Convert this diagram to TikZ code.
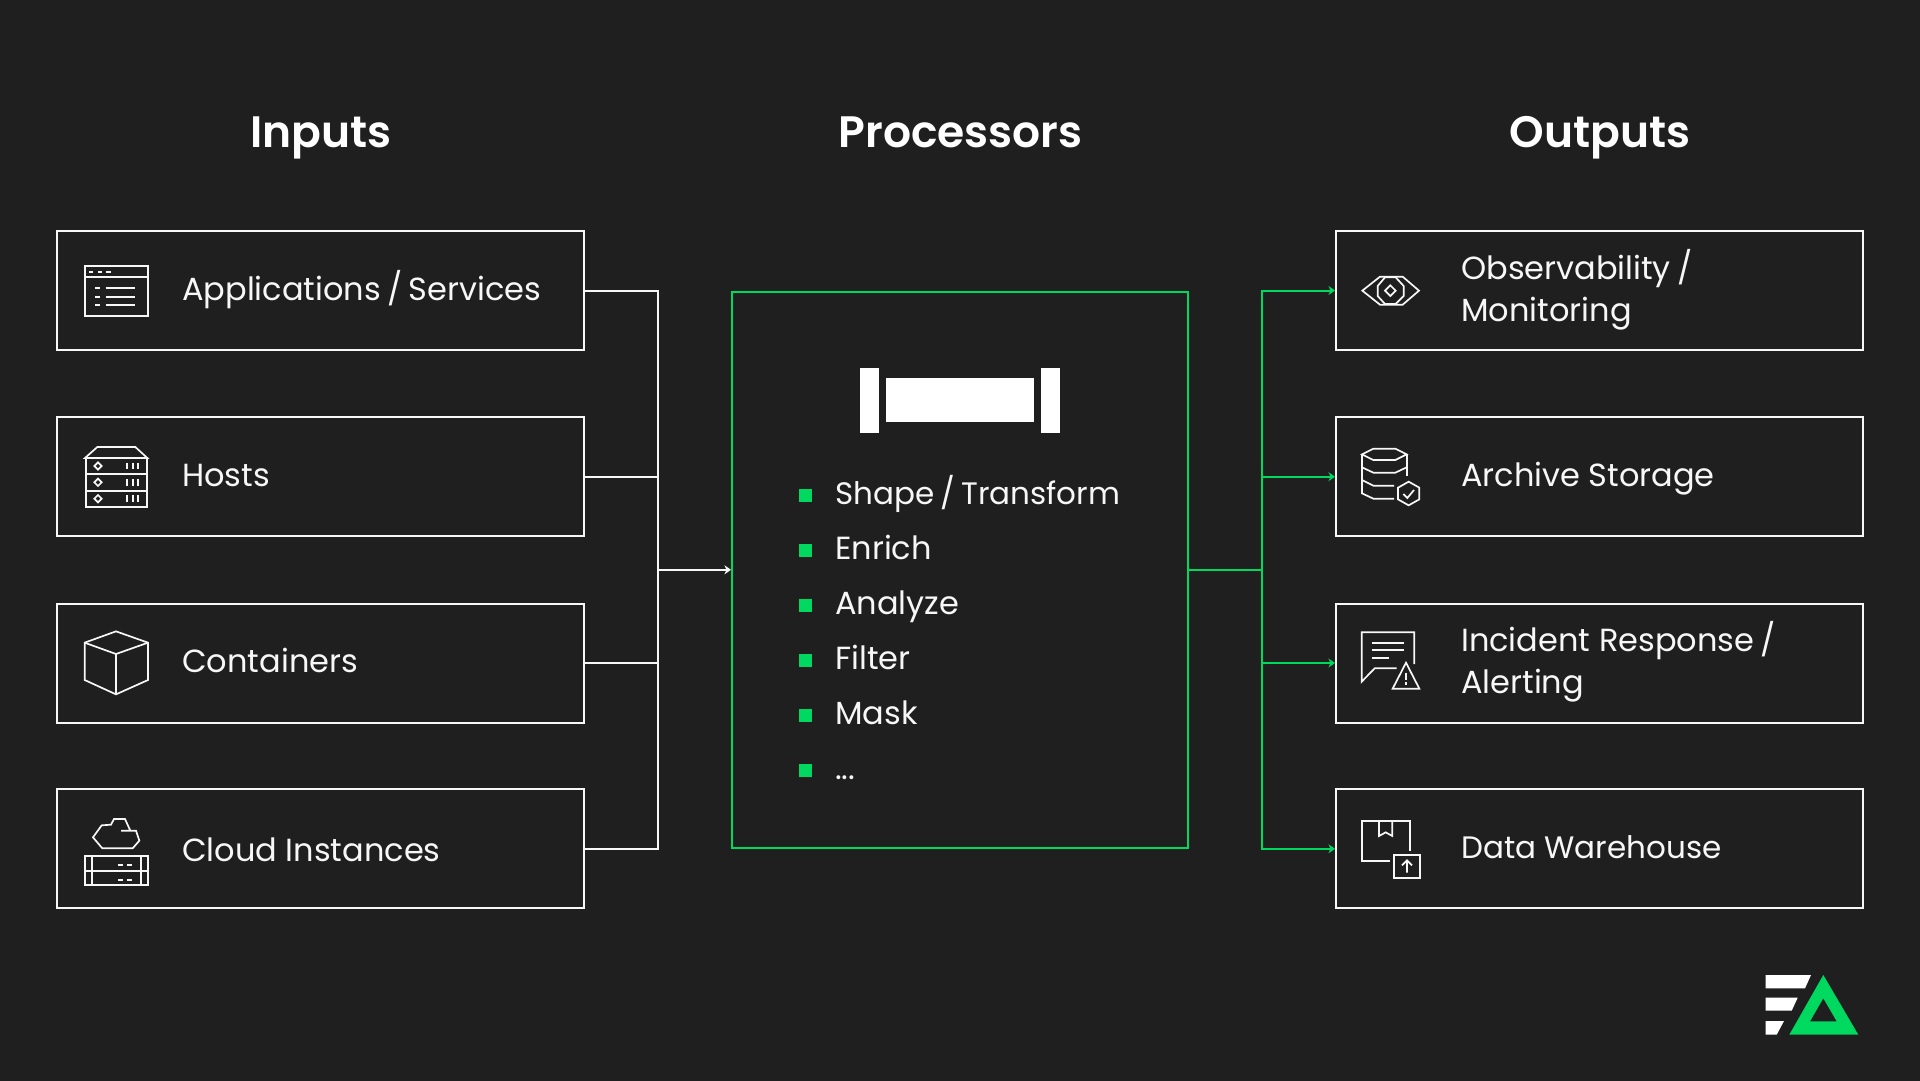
\documentclass[tikz,border=0pt]{standalone}
\usepackage{fontspec}
\setmainfont{Poppins}[BoldFont={Poppins SemiBold}]
\usetikzlibrary{arrows.meta}
\definecolor{bg}{HTML}{1F1F1F}
\definecolor{grn}{HTML}{00D95F}
\definecolor{ink}{HTML}{F7F7F7}
\newcommand{\slsh}{\hspace{-0.07em}/\hspace{-0.07em}}
\tikzset{
  box/.style={draw=ink,line width=2pt,minimum width=527pt,minimum height=119pt,inner sep=0pt},
  procbox/.style={draw=grn,line width=2pt,minimum width=456pt,minimum height=555.5pt,inner sep=0pt},
  lab/.style={text=ink,inner sep=0pt,anchor=base west,font=\fontsize{32}{42}\selectfont},
  lab2/.style={text=ink,inner sep=0pt,anchor=west,align=left,font=\fontsize{32}{42}\selectfont},
  head/.style={text=white,inner sep=0pt,anchor=base,font=\fontsize{44}{50}\selectfont\bfseries},
  bull/.style={fill=grn,minimum size=13pt,inner sep=0pt},
  ico/.style={draw=ink,line width=1.7pt,line join=miter},
  wire/.style={draw=ink,line width=2pt},
  gwire/.style={draw=grn,line width=2pt},
  tip/.style={-{Stealth[length=6.5pt,width=9pt,inset=2pt]}},
  zoomA/.style={shift={(50,220)},scale=1/3},
  zoomB/.style={shift={(50,590)},scale=1/3},
  zoomC/.style={shift={(1330,220)},scale=1/3},
  zoomD/.style={shift={(1330,590)},scale=1/3},
}
\begin{document}
\begin{tikzpicture}[x=1pt,y=-1pt]
\useasboundingbox (0,0) rectangle (1920,1080);
\fill[bg] (-5,-5) rectangle (1925,1085);
% headings
\node[head] (hI) at (321,147) {Inputs};
\node[head] (hP) at (960.5,147) {Processors};
\node[head] (hO) at (1600,147) {Outputs};
% input boxes
\node[box] (in1) at (320.5,290.5) {};
\node[box] (in2) at (320.5,476.7) {};
\node[box] (in3) at (320.5,663) {};
\node[box] (in4) at (320.5,848.8) {};
% output boxes
\node[box] (out1) at (1599.5,290.5) {};
\node[box] (out2) at (1599.5,476.7) {};
\node[box] (out3) at (1599.5,663) {};
\node[box] (out4) at (1599.5,848.8) {};
% processor
\node[procbox] (proc) at (960,569.8) {};
% labels
\node[lab] (t1) at (182,300) {Applications \slsh{} Services};
\node[lab] (t2) at (182,486) {Hosts};
\node[lab] (t3) at (182,672) {Containers};
\node[lab] (t4) at (182,861.5) {Cloud Instances};
\node[lab2] (t5) at (1461,289.5) {Observability \slsh\\Monitoring};
\node[lab] (t6) at (1461,486) {Archive Storage};
\node[lab2] (t7) at (1461,662) {Incident Response \slsh\\Alerting};
\node[lab,font=\fontsize{31}{42}\selectfont] (t8) at (1461,858.5) {Data Warehouse};
% bullets
\node[bull] (b1) at (805.7,495) {};
\node[lab,font=\fontsize{31}{42}\selectfont] (l1) at (835,504.3) {Shape \slsh{} Transform};
\foreach \i/\yy/\s in {2/550/Enrich,3/605/Analyze,4/660/Filter,5/715/Mask}{
  \node[bull] (b\i) at (805.7,\yy) {};
  \node[lab] (l\i) at (835,\yy+9.3) {\s};
}
\node[bull] (b6) at (805.7,770) {};
\node[lab] (l6) at (835,779.3) {...};
% pipe icon
\fill[white] (860,368) rectangle (878.7,432.7);
\fill[white] (886,377.7) rectangle (1034,422.3);
\fill[white] (1041.2,368) rectangle (1060,432.7);
% connectors
\coordinate (busL) at (658,569.8);
\coordinate (busR) at (1262,569.8);
\foreach \n in {1,2,3,4} \draw[wire] (in\n.east) -| (busL);
\draw[wire,tip] (busL) -- (proc.west);
\draw[gwire] (proc.east) -- (busR);
\foreach \n in {1,2,3,4} \draw[gwire,tip] (busR) |- (out\n.west);
% icon: application window
\begin{scope}[zoomA]
\draw[ico] (104,138) rectangle (294,288);
\draw[ico] (104,171) -- (294,171);
\draw[ico] (118,155)--(130,155) (143,155)--(155,155) (168,155)--(182,155);
\foreach \y in {205,230,255} \draw[ico] (135,\y)--(149,\y) (167,\y)--(255,\y);
\end{scope}
% icon: hosts
\begin{scope}[zoomA]
\draw[ico] (105,714)--(142,681)--(256,681)--(292,714)--cycle;
\draw[ico] (108,714) rectangle (290,861);
\draw[ico] (108,763)--(290,763) (108,812)--(290,812);
\foreach \y in {738,787,836}{
  \draw[ico] (144,\y-11)--(155,\y)--(144,\y+11)--(133,\y)--cycle;
  \foreach \x in {231,248,265} \draw[ico] (\x,\y-10)--(\x,\y+10);
}
\end{scope}
% icon: cube
\begin{scope}[zoomB]
\draw[ico] (198,124)--(294,158)--(294,270)--(198,313)--(104,270)--(104,158)--cycle;
\draw[ico] (104,158)--(198,192)--(294,158) (198,192)--(198,313);
\end{scope}
% icon: cloud instance
\begin{scope}[zoomB]
\draw[ico] (213,722)--(258,722)--(268,752)--(248,775)--(157,775)--(129,742)--(155,706)--(183,704)--(192,687)--(225,687)--(241,722);
\draw[ico] (104,798) rectangle (295,886);
\draw[ico] (104,842)--(295,842) (127,798)--(127,886) (272,798)--(272,886);
\foreach \y in {825,869} \draw[ico] (204,\y)--(218,\y) (230,\y)--(245,\y);
\end{scope}
% icon: eye
\begin{scope}[zoomC]
\draw[ico] (97,212)--(150,170)--(218,170)--(267,212)--(218,254)--(150,254)--cycle;
\draw[ico] (143,198)--(165,172)--(197,172)--(221,198)--(221,228)--(197,252)--(165,252)--(143,228)--cycle;
\draw[ico] (181,196)--(197,212)--(181,228)--(165,212)--cycle;
\end{scope}
% icon: archive
\begin{scope}[zoomC]
\draw[ico] (96,703)--(130,686)--(196,686)--(230,703)--(196,720)--(130,720)--cycle;
\draw[ico] (230,703)--(230,768);
\draw[ico] (96,703)--(96,820)--(130,836)--(192,836);
\draw[ico] (96,742)--(130,758)--(196,758)--(230,742);
\draw[ico] (96,780)--(130,797)--(192,797);
\draw[ico] (236,785)--(268,803)--(268,838)--(236,856)--(204,838)--(204,803)--cycle;
\draw[ico] (220,822)--(232,834)--(252,810);
\end{scope}
% icon: incident
\begin{scope}[zoomD]
\draw[ico] (253,222)--(253,127)--(95,127)--(95,275)--(134,235)--(200,235);
\draw[ico] (125,158)--(222,158) (125,181)--(222,181) (125,204)--(176,204);
\draw[ico] (228,218)--(268,296)--(188,296)--cycle;
\draw[ico] (228,248)--(228,270) (228,276)--(228,284);
\end{scope}
% icon: warehouse
\begin{scope}[zoomD]
\draw[ico] (239,783)--(239,692)--(95,692)--(95,812)--(181,812);
\draw[ico] (147,692)--(147,738)--(167,727)--(187,738)--(187,692);
\draw[ico] (192,796) rectangle (269,864);
\draw[ico] (231,848)--(231,813) (216,826)--(231,811)--(246,826);
\end{scope}
% logo
\fill[white] (1765.7,975)--(1811,975)--(1805,988.3)--(1765.7,988.3)--cycle;
\fill[white] (1765.7,997.7)--(1797.7,997.7)--(1791.7,1010.7)--(1765.7,1010.7)--cycle;
\fill[white] (1765.7,1021)--(1784,1021)--(1776.7,1034.7)--(1765.7,1034.7)--cycle;
\fill[grn,even odd rule] (1823.3,975)--(1858.3,1034.7)--(1789.3,1034.7)--cycle
  (1823.3,998.3)--(1836.7,1021.3)--(1810,1021.3)--cycle;
\end{tikzpicture}
\end{document}
